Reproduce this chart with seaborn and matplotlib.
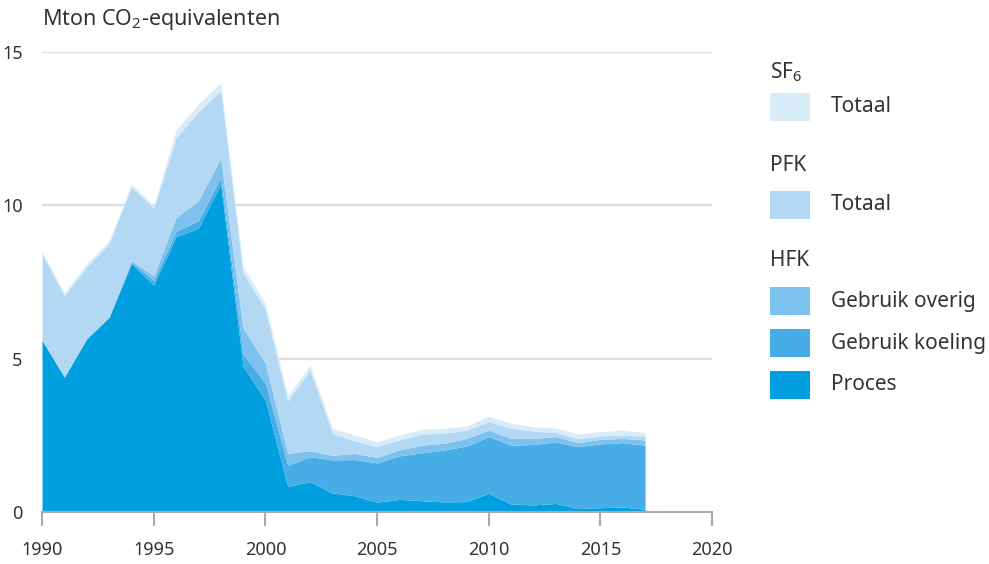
import numpy as np
import seaborn as sns
import matplotlib.pyplot as plt
from matplotlib.patches import Rectangle

years = list(range(1990, 2018))

# Mton CO2-equivalenten per component (stacked from bottom to top)
proces = [5.60, 4.40, 5.65, 6.35, 8.10, 7.40, 8.98, 9.25, 10.70, 4.75,
          3.65, 0.83, 0.99, 0.62, 0.53, 0.32, 0.41, 0.37, 0.33, 0.34,
          0.61, 0.26, 0.23, 0.28, 0.11, 0.14, 0.16, 0.09]
koeling = [0.00, 0.00, 0.00, 0.00, 0.05, 0.15, 0.17, 0.25, 0.23, 0.40,
           0.55, 0.70, 0.81, 1.08, 1.18, 1.28, 1.42, 1.56, 1.69, 1.81,
           1.85, 1.92, 1.97, 2.00, 2.02, 2.08, 2.10, 2.09]
overig = [0.00, 0.00, 0.00, 0.00, 0.05, 0.15, 0.45, 0.65, 0.62, 0.85,
          0.65, 0.38, 0.20, 0.15, 0.20, 0.18, 0.19, 0.25, 0.22, 0.25,
          0.21, 0.22, 0.20, 0.18, 0.13, 0.15, 0.14, 0.17]
pfk = [2.80, 2.65, 2.35, 2.40, 2.40, 2.20, 2.60, 2.90, 2.20, 1.80,
       1.75, 1.71, 2.63, 0.72, 0.41, 0.35, 0.33, 0.36, 0.33, 0.27,
       0.28, 0.33, 0.24, 0.13, 0.13, 0.11, 0.11, 0.11]
sf6 = [0.10, 0.10, 0.10, 0.10, 0.10, 0.10, 0.25, 0.25, 0.25, 0.20,
       0.20, 0.16, 0.16, 0.16, 0.19, 0.16, 0.16, 0.16, 0.15, 0.13,
       0.18, 0.16, 0.14, 0.14, 0.15, 0.14, 0.16, 0.13]

colors = ['#009fe0', '#47ade6', '#7dc2ee', '#b3d8f3', '#d8ebf9']
x_ticks = [1990, 1995, 2000, 2005, 2010, 2015, 2020]
y_ticks = [0, 5, 10, 15]

sns.set_theme(style='white')
plt.rcParams['font.family'] = ['Noto Sans', 'DejaVu Sans']
plt.rcParams['mathtext.fontset'] = 'custom'
plt.rcParams['mathtext.rm'] = 'Noto Sans'
plt.rcParams['mathtext.it'] = 'Noto Sans'
text_col = '#333333'

fig = plt.figure(figsize=(9.89, 5.64), dpi=100)
ax = fig.add_axes([0.0425, 0.0922, 0.6775, 0.8156])

ax.stackplot(years, proces, koeling, overig, pfk, sf6,
             colors=colors, linewidth=0)

ax.set_xlim(1990, 2020)
ax.set_ylim(0, 15)
ax.set_xticks(x_ticks)
ax.set_yticks(y_ticks)
ax.yaxis.grid(True, color='#dddddd', linewidth=1.6)
ax.set_axisbelow(True)
sns.despine(ax=ax, left=True)
ax.spines['bottom'].set_color('#aaaaaa')
ax.spines['bottom'].set_linewidth(1.5)
ax.tick_params(axis='x', bottom=True, length=10, width=1.5, color='#aaaaaa',
               labelsize=13, labelcolor=text_col, pad=11)
ax.tick_params(axis='y', left=False, labelsize=13, labelcolor=text_col, pad=8)

fig.text(0.0425, 0.965, 'Mton CO$_2$-equivalenten', fontsize=15.5,
         color=text_col, va='center', ha='left')

# custom grouped legend
legend_items = [
    ('SF$_6$', None),
    ('Totaal', colors[4]),
    ('PFK', None),
    ('Totaal', colors[3]),
    ('HFK', None),
    ('Gebruik overig', colors[2]),
    ('Gebruik koeling', colors[1]),
    ('Proces', colors[0]),
]
row_y = [72, 107, 165, 205, 260, 301, 343, 385]
W, H = 989, 564
for (label, col), yp in zip(legend_items, row_y):
    if col is None:
        fig.text(770 / W, 1 - yp / H, label, fontsize=15, color=text_col,
                 va='center', ha='left')
    else:
        fig.patches.append(Rectangle((770 / W, 1 - (yp + 14) / H), 40 / W, 28 / H,
                                     facecolor=col, edgecolor='none',
                                     transform=fig.transFigure, figure=fig))
        fig.text(831 / W, 1 - yp / H, label, fontsize=15, color=text_col,
                 va='center', ha='left')

fig.savefig('out.png', dpi=100)
